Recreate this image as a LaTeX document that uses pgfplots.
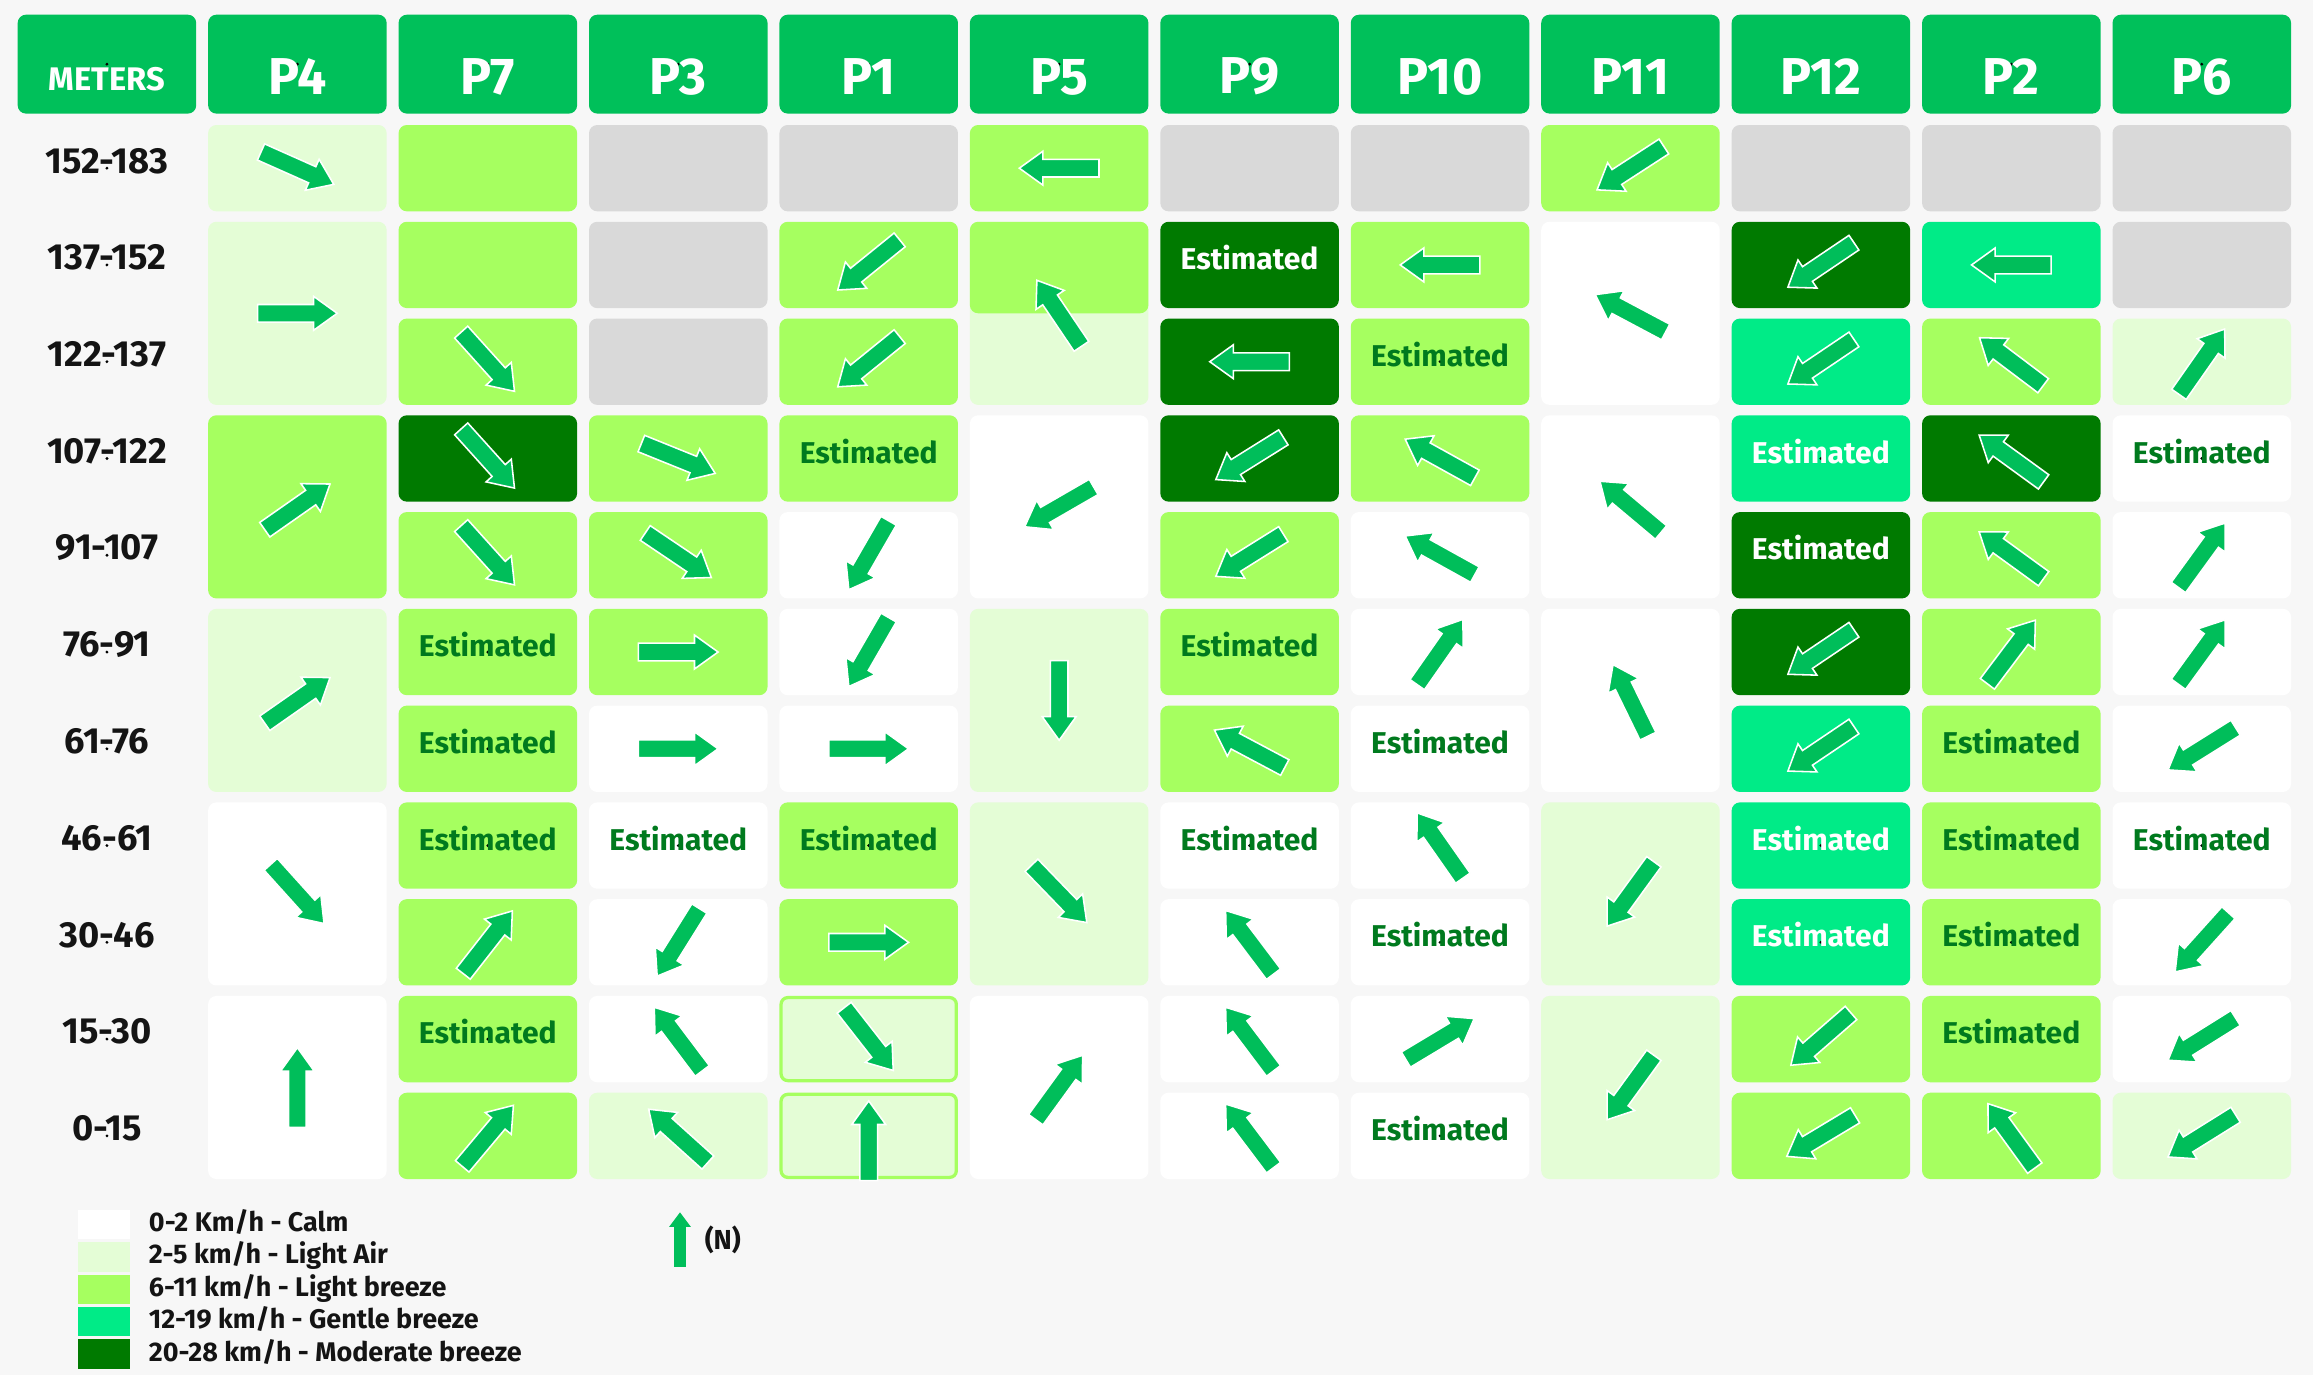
\documentclass[border=0pt]{standalone}
\usepackage{pgfplots}
\pgfplotsset{compat=1.18}
\usepackage{fontspec}
\setmainfont{Fira Sans}
\usetikzlibrary{backgrounds}

\definecolor{bg}{RGB}{247,247,247}
\definecolor{HD}{RGB}{0,192,90}
\definecolor{W}{RGB}{255,255,255}
\definecolor{LA}{RGB}{228,253,214}
\definecolor{LB}{RGB}{166,255,96}
\definecolor{GB}{RGB}{0,235,135}
\definecolor{MB}{RGB}{0,122,0}
\definecolor{GR}{RGB}{217,217,217}
\definecolor{arrowc}{RGB}{0,190,90}
\definecolor{EG}{RGB}{0,122,30}
\definecolor{BK}{RGB}{20,20,20}

\pgfdeclareplotmark{cell}{%
  \pgfkeys{/pgf/fpu=false}%
  \filldraw[fill=\cellc, draw=\celld, line width=0.22mm, rounded corners=0.45mm]
    (-5.94mm,{-0.5*\cellh*1mm+0.11mm}) rectangle (5.94mm,{0.5*\cellh*1mm-0.11mm});%
}
\pgfdeclareplotmark{warrow}{%
  \pgfkeys{/pgf/fpu=false}%
  \pgftransformrotate{\wdir}%
  \filldraw[fill=arrowc, draw=white, line width=0.3pt]
    (-2.7mm,-0.6mm) -- (1.1mm,-0.6mm) -- (1.1mm,-1.15mm) -- (2.7mm,0mm)
    -- (1.1mm,1.15mm) -- (1.1mm,0.6mm) -- (-2.7mm,0.6mm) -- cycle;%
}
\pgfdeclareplotmark{narrow}{%
  \pgftransformrotate{90}%
  \fill[arrowc]
    (-1.75mm,-0.32mm) -- (0.95mm,-0.32mm) -- (0.95mm,-0.6mm) -- (1.75mm,0mm)
    -- (0.95mm,0.6mm) -- (0.95mm,0.32mm) -- (-1.75mm,0.32mm) -- cycle;%
}

\pgfplotsset{
  cellplot/.style={forget plot, only marks, mark=cell,
    visualization depends on={value \thisrow{h}\as\cellh},
    visualization depends on={value \thisrow{c}\as\cellc},
    visualization depends on={value \thisrow{d}\as\celld}},
  lblplot/.style={forget plot, only marks, mark=*,
    mark options={draw=none, fill=none, scale=0.01},
    point meta=explicit symbolic,
    nodes near coords,
    nodes near coords style={anchor=center, inner sep=0pt}},
}

\begin{document}
\begin{tikzpicture}
\begin{axis}[
  name=ax,
  hide axis, scale only axis,
  width=15.68cm, height=9.32cm,
  xmin=-0.5616, xmax=11.584,
  ymin=-1.7378, ymax=12.4695,
  y dir=reverse,
  clip=false,
  legend cell align=left,
  legend image code/.code={\fill[#1, draw=none] (0mm,-1mm) rectangle (3.5mm,1mm);},
  legend style={at={(0.0338,0.1202)}, anchor=north west, draw=none, fill=none,
    inner sep=0pt, outer sep=0pt, row sep=0.2mm,
    font=\fontsize{5.2}{6}\selectfont\bfseries, text=BK,
    nodes={inner sep=0pt, text height=1.45mm, text depth=0.5mm},
    /tikz/every odd column/.append style={column sep=1.3mm}},
]
% cells: column, row (centre), height in mm, fill, border
\addplot[cellplot] table[x=x, y=y] {
x y h c d
0 -1.075 6.7 HD HD
1 -1.075 6.7 HD HD
2 -1.075 6.7 HD HD
3 -1.075 6.7 HD HD
4 -1.075 6.7 HD HD
5 -1.075 6.7 HD HD
6 -1.075 6.7 HD HD
7 -1.075 6.7 HD HD
8 -1.075 6.7 HD HD
9 -1.075 6.7 HD HD
10 -1.075 6.7 HD HD
11 -1.075 6.7 HD HD
1 0 5.85 LA LA
1 1.5 12.41 LA LA
1 3.5 12.41 LB LB
1 5.5 12.41 LA LA
1 7.5 12.41 W W
1 9.5 12.41 W W
2 0 5.85 LB LB
2 1 5.85 LB LB
2 2 5.85 LB LB
2 3 5.85 MB MB
2 4 5.85 LB LB
2 5 5.85 LB LB
2 6 5.85 LB LB
2 7 5.85 LB LB
2 8 5.85 LB LB
2 9 5.85 LB LB
2 10 5.85 LB LB
3 0 5.85 GR GR
3 1 5.85 GR GR
3 2 5.85 GR GR
3 3 5.85 LB LB
3 4 5.85 LB LB
3 5 5.85 LB LB
3 6 5.85 W W
3 7 5.85 W W
3 8 5.85 W W
3 9 5.85 W W
3 10 5.85 LA LA
4 0 5.85 GR GR
4 1 5.85 LB LB
4 2 5.85 LB LB
4 3 5.85 LB LB
4 4 5.85 W W
4 5 5.85 W W
4 6 5.85 W W
4 7 5.85 LB LB
4 8 5.85 LB LB
4 9 5.85 LA LB
4 10 5.85 LA LB
5 0 5.85 LB LB
5 1.5 12.41 LA LA
5 1.027 6.2 LB LB
5 3.5 12.41 W W
5 5.5 12.41 LA LA
5 7.5 12.41 LA LA
5 9.5 12.41 W W
6 0 5.85 GR GR
6 1 5.85 MB MB
6 2 5.85 MB MB
6 3 5.85 MB MB
6 4 5.85 LB LB
6 5 5.85 LB LB
6 6 5.85 LB LB
6 7 5.85 W W
6 8 5.85 W W
6 9 5.85 W W
6 10 5.85 W W
7 0 5.85 GR GR
7 1 5.85 LB LB
7 2 5.85 LB LB
7 3 5.85 LB LB
7 4 5.85 W W
7 5 5.85 W W
7 6 5.85 W W
7 7 5.85 W W
7 8 5.85 W W
7 9 5.85 W W
7 10 5.85 W W
8 0 5.85 LB LB
8 1.5 12.41 W W
8 3.5 12.41 W W
8 5.5 12.41 W W
8 7.5 12.41 LA LA
8 9.5 12.41 LA LA
9 0 5.85 GR GR
9 1 5.85 MB MB
9 2 5.85 GB GB
9 3 5.85 GB GB
9 4 5.85 MB MB
9 5 5.85 MB MB
9 6 5.85 GB GB
9 7 5.85 GB GB
9 8 5.85 GB GB
9 9 5.85 LB LB
9 10 5.85 LB LB
10 0 5.85 GR GR
10 1 5.85 GB GB
10 2 5.85 LB LB
10 3 5.85 MB MB
10 4 5.85 LB LB
10 5 5.85 LB LB
10 6 5.85 LB LB
10 7 5.85 LB LB
10 8 5.85 LB LB
10 9 5.85 LB LB
10 10 5.85 LB LB
11 0 5.85 GR GR
11 1 5.85 GR GR
11 2 5.85 LA LA
11 3 5.85 W W
11 4 5.85 W W
11 5 5.85 W W
11 6 5.85 W W
11 7 5.85 W W
11 8 5.85 W W
11 9 5.85 W W
11 10 5.85 LA LA
};

% wind direction arrows: column, row, direction in degrees (0 = east, 90 = north)
\addplot[forget plot, only marks, mark=warrow,
  visualization depends on={\thisrow{a}\as\wdir}]
  table[x=x, y=y] {
x y a
1 0 -24
1 1.5 0
1 3.5 35
1 5.5 35
1 7.5 -48
1 9.5 90
2 2 -48
2 3 -48
2 4 -48
2 8 52
2 10 50
3 3 -22
3 4 -34
3 5 0
3 6 0
3 8 -122
3 9 127
3 10 138
4 1 -141
4 2 -141
4 4 -120
4 5 -120
4 6 0
4 8 0
4 9 -52
4 10.05 90
5 0 180
5 1.5 124
5 3.5 -150
5 5.5 -90
5 7.5 -46
5 9.5 54
6 2 180
6 3 -148
6 4 -148
6 6 152
6 8 127
6 9 127
6 10 127
7 1 180
7 3 151
7 4 151
7 5 55
7 7 125
7 9 31
8 0 -147
8 1.5 152
8 3.5 140
8 5.5 116
8 7.5 -126
8 9.5 -126
9 1 -146
9 2 -146
9 5 -146
9 6 -146
9 9 -139
9 10 -149
10 1 180
10 2 143
10 3 144
10 4 144
10 5 53
10 10 126
11 2 55
11 4 54
11 5 54
11 6 -148
11 8 -132
11 9 -148
11 10 -148
};

\addplot[lblplot, nodes near coords style={text=W, font=\fontsize{10}{12}\selectfont\bfseries, yshift=-0.85mm}]
  table[x=x, y=y, meta=t] {
x y t
1 -1.075 P4
2 -1.075 P7
3 -1.075 P3
4 -1.075 P1
5 -1.075 P5
6 -1.075 P9
7 -1.075 P10
8 -1.075 P11
9 -1.075 P12
10 -1.075 P2
11 -1.075 P6
};

\addplot[lblplot, nodes near coords style={text=W, font=\fontsize{6.3}{7}\selectfont\bfseries, yshift=-1.05mm}]
  table[x=x, y=y, meta=t] {
x y t
0 -1.075 METERS
};

\addplot[lblplot, nodes near coords style={text=BK, font=\fontsize{7}{8}\selectfont\bfseries, yshift=0.5mm}]
  table[x=x, y=y, meta=t] {
x y t
0 0 152-183
0 1 137-152
0 2 122-137
0 3 107-122
0 4 91-107
0 5 76-91
0 6 61-76
0 7 46-61
0 8 30-46
0 9 15-30
0 10 0-15
};

\addplot[lblplot, nodes near coords style={text=EG, font=\fontsize{5.8}{7}\selectfont\bfseries, yshift=0.5mm}]
  table[x=x, y=y, meta=t] {
x y t
2 5 Estimated
2 6 Estimated
2 7 Estimated
2 9 Estimated
3 7 Estimated
4 3 Estimated
4 7 Estimated
6 5 Estimated
6 7 Estimated
7 2 Estimated
7 6 Estimated
7 8 Estimated
7 10 Estimated
10 6 Estimated
10 7 Estimated
10 8 Estimated
10 9 Estimated
11 3 Estimated
11 7 Estimated
};

\addplot[lblplot, nodes near coords style={text=W, font=\fontsize{5.8}{7}\selectfont\bfseries, yshift=0.5mm}]
  table[x=x, y=y, meta=t] {
x y t
6 1 Estimated
9 3 Estimated
9 4 Estimated
9 7 Estimated
9 8 Estimated
};

% north indicator
\addplot[forget plot, only marks, mark=narrow] coordinates {(3.009,11.075)};
\addplot[lblplot, nodes near coords style={text=BK, font=\fontsize{5.3}{6}\selectfont\bfseries}]
  table[x=x, y=y, meta=t] {
x y t
3.234 11.07 (N)
};

\addlegendimage{fill=W}
\addlegendentry{0-2 Km/h - Calm}
\addlegendimage{fill=LA}
\addlegendentry{2-5 km/h - Light Air}
\addlegendimage{fill=LB}
\addlegendentry{6-11 km/h - Light breeze}
\addlegendimage{fill=GB}
\addlegendentry{12-19 km/h - Gentle breeze}
\addlegendimage{fill=MB}
\addlegendentry{20-28 km/h - Moderate breeze}
\end{axis}
\begin{pgfonlayer}{background}
\fill[bg] (ax.south west) rectangle (ax.north east);
\end{pgfonlayer}
\pgfresetboundingbox
\path[use as bounding box] (ax.south west) rectangle (ax.north east);
\end{tikzpicture}
\end{document}
